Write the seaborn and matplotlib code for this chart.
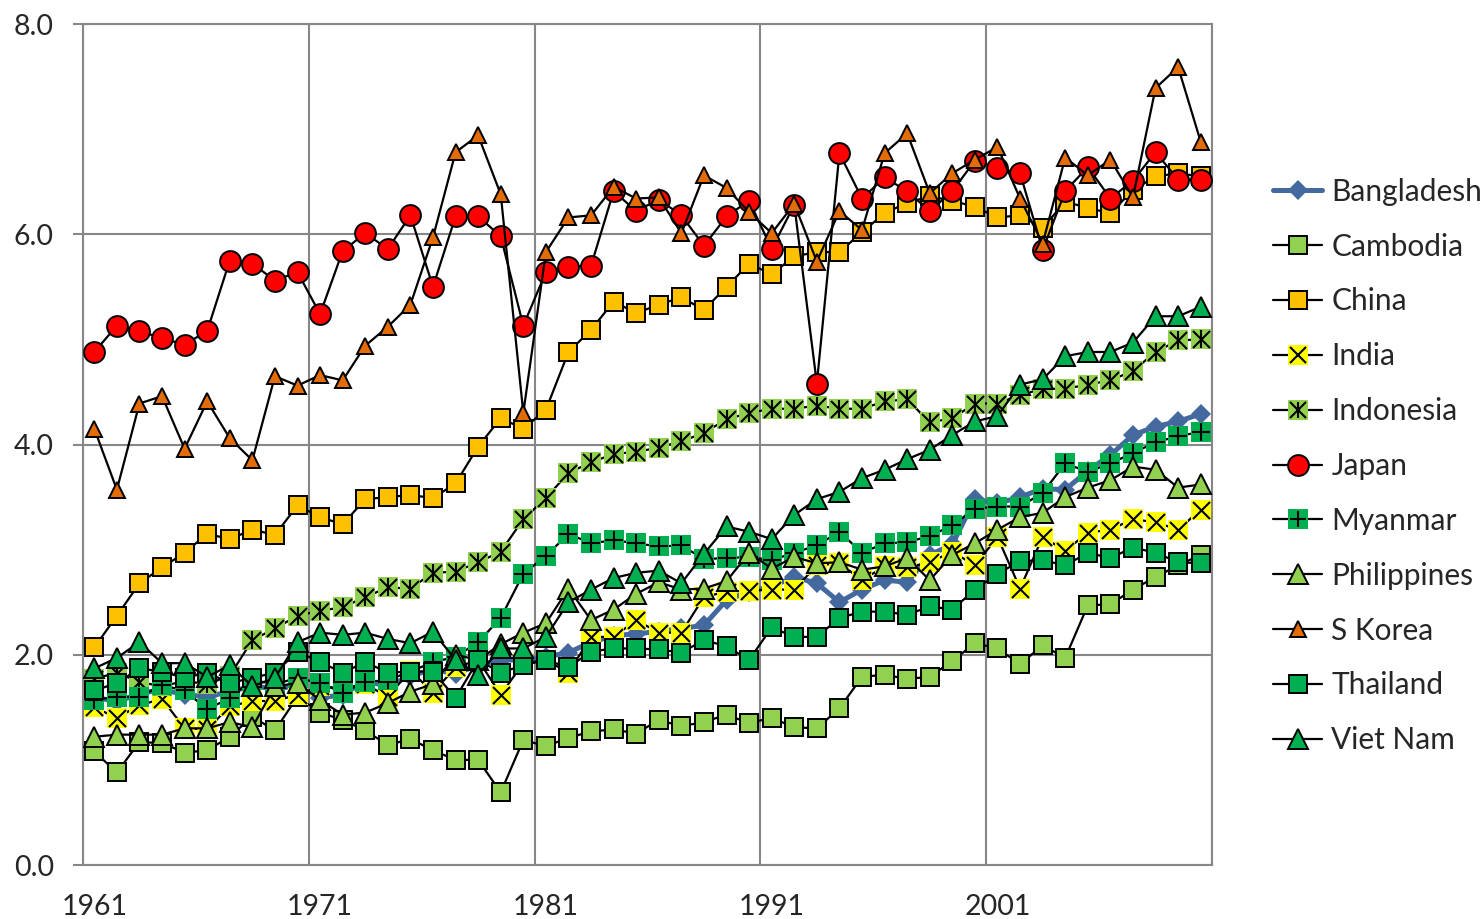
import seaborn as sns
import matplotlib.pyplot as plt
import numpy as np
from matplotlib.lines import Line2D
from matplotlib.ticker import FixedLocator, FormatStrFormatter

years = list(range(1961, 2011))

bangladesh = [1.60, 1.55, 1.63, 1.67, 1.62, 1.60, 1.65, 1.70, 1.68, 1.70,
              1.59, 1.62, 1.75, 1.70, 1.80, 1.86, 1.82, 1.90, 1.95, 1.95,
              1.98, 2.02, 2.12, 2.18, 2.20, 2.22, 2.25, 2.28, 2.52, 2.60,
              2.65, 2.74, 2.68, 2.50, 2.62, 2.71, 2.69, 2.95, 3.05, 3.48,
              3.44, 3.50, 3.58, 3.57, 3.75, 3.90, 4.09, 4.17, 4.22, 4.29]
cambodia = [1.08, 0.88, 1.17, 1.16, 1.07, 1.09, 1.22, 1.41, 1.28, 1.60,
            1.45, 1.38, 1.28, 1.14, 1.20, 1.09, 1.00, 1.00, 0.69, 1.19,
            1.13, 1.21, 1.27, 1.29, 1.25, 1.38, 1.32, 1.36, 1.43, 1.35,
            1.40, 1.31, 1.30, 1.49, 1.79, 1.81, 1.77, 1.79, 1.94, 2.11,
            2.06, 1.91, 2.09, 1.97, 2.47, 2.48, 2.62, 2.74, 2.85, 2.95]
china = [2.07, 2.37, 2.68, 2.83, 2.97, 3.15, 3.10, 3.19, 3.14, 3.42,
         3.31, 3.24, 3.48, 3.50, 3.52, 3.49, 3.63, 3.98, 4.25, 4.15,
         4.33, 4.88, 5.09, 5.36, 5.25, 5.33, 5.40, 5.28, 5.50, 5.72,
         5.62, 5.79, 5.83, 5.83, 6.02, 6.20, 6.30, 6.36, 6.32, 6.26,
         6.16, 6.18, 6.06, 6.31, 6.25, 6.20, 6.42, 6.55, 6.58, 6.55]
india = [1.50, 1.40, 1.52, 1.58, 1.30, 1.29, 1.51, 1.56, 1.56, 1.62,
         1.70, 1.68, 1.72, 1.60, 1.85, 1.64, 1.88, 1.95, 1.62, 1.92,
         1.95, 1.83, 2.17, 2.17, 2.33, 2.21, 2.21, 2.55, 2.60, 2.61,
         2.62, 2.62, 2.85, 2.87, 2.71, 2.84, 2.83, 2.88, 2.98, 2.85,
         3.12, 2.63, 3.12, 2.99, 3.16, 3.19, 3.29, 3.26, 3.19, 3.38]
indonesia = [1.77, 1.83, 1.74, 1.70, 1.75, 1.72, 1.80, 2.14, 2.25, 2.37,
             2.42, 2.45, 2.55, 2.64, 2.63, 2.78, 2.79, 2.88, 2.98, 3.29,
             3.49, 3.73, 3.83, 3.91, 3.93, 3.97, 4.03, 4.11, 4.24, 4.30,
             4.34, 4.34, 4.37, 4.34, 4.34, 4.41, 4.43, 4.21, 4.25, 4.39,
             4.39, 4.47, 4.53, 4.53, 4.57, 4.61, 4.70, 4.88, 4.99, 5.00]
japan = [4.88, 5.13, 5.08, 5.01, 4.95, 5.08, 5.75, 5.72, 5.56, 5.64,
         5.24, 5.84, 6.01, 5.86, 6.18, 5.50, 6.17, 6.17, 5.98, 5.13,
         5.64, 5.69, 5.70, 6.41, 6.22, 6.33, 6.18, 5.89, 6.17, 6.32,
         5.86, 6.28, 4.58, 6.77, 6.34, 6.54, 6.41, 6.22, 6.41, 6.70,
         6.63, 6.58, 5.85, 6.41, 6.64, 6.34, 6.51, 6.78, 6.52, 6.52]
myanmar = [1.57, 1.60, 1.60, 1.71, 1.66, 1.48, 1.59, 1.76, 1.72, 1.78,
           1.73, 1.64, 1.74, 1.76, 1.84, 1.93, 1.98, 2.12, 2.35, 2.77,
           2.94, 3.15, 3.06, 3.09, 3.06, 3.03, 3.04, 2.91, 2.92, 2.93,
           2.90, 2.97, 3.04, 3.17, 2.97, 3.06, 3.07, 3.13, 3.23, 3.39,
           3.41, 3.41, 3.54, 3.82, 3.74, 3.82, 3.92, 4.02, 4.08, 4.12]
philippines = [1.22, 1.24, 1.24, 1.24, 1.30, 1.30, 1.36, 1.31, 1.70, 1.73,
               1.57, 1.43, 1.45, 1.54, 1.65, 1.72, 2.00, 1.95, 2.10, 2.21,
               2.30, 2.63, 2.33, 2.43, 2.58, 2.69, 2.62, 2.63, 2.70, 2.97,
               2.82, 2.93, 2.87, 2.88, 2.81, 2.84, 2.92, 2.71, 2.95, 3.06,
               3.19, 3.31, 3.35, 3.50, 3.59, 3.66, 3.79, 3.76, 3.59, 3.62]
s_korea = [4.15, 3.57, 4.39, 4.46, 3.96, 4.41, 4.06, 3.85, 4.65, 4.56,
           4.66, 4.61, 4.94, 5.12, 5.33, 5.97, 6.78, 6.94, 6.38, 4.30,
           5.83, 6.16, 6.18, 6.45, 6.34, 6.35, 6.01, 6.56, 6.44, 6.21,
           6.01, 6.29, 5.74, 6.22, 6.04, 6.77, 6.96, 6.39, 6.58, 6.71,
           6.83, 6.34, 5.91, 6.73, 6.56, 6.71, 6.35, 7.39, 7.59, 6.88]
thailand = [1.66, 1.73, 1.87, 1.84, 1.78, 1.83, 1.73, 1.78, 1.83, 2.03,
            1.93, 1.83, 1.93, 1.83, 1.84, 1.84, 1.59, 1.95, 1.83, 1.90,
            1.95, 1.88, 2.03, 2.06, 2.06, 2.05, 2.02, 2.14, 2.08, 1.95,
            2.26, 2.17, 2.17, 2.35, 2.41, 2.41, 2.38, 2.46, 2.43, 2.62,
            2.77, 2.89, 2.90, 2.85, 2.97, 2.92, 3.02, 2.97, 2.88, 2.87]
viet_nam = [1.87, 1.97, 2.12, 1.92, 1.92, 1.79, 1.90, 1.70, 1.78, 2.12,
            2.21, 2.19, 2.21, 2.15, 2.11, 2.22, 1.95, 1.81, 2.06, 2.06,
            2.17, 2.50, 2.62, 2.73, 2.78, 2.80, 2.68, 2.96, 3.22, 3.17,
            3.10, 3.33, 3.48, 3.55, 3.68, 3.76, 3.86, 3.95, 4.09, 4.22,
            4.27, 4.57, 4.62, 4.84, 4.88, 4.88, 4.97, 5.22, 5.22, 5.31]

BLUE = "#43699e"
LGREEN = "#92d050"
DGREEN = "#00b050"

# name, values, marker, size, face, edge, inner symbols
series = [
    ("Bangladesh", bangladesh, "D", 10.5, BLUE, BLUE, []),
    ("Cambodia", cambodia, "s", 13.5, LGREEN, "black", []),
    ("China", china, "s", 13.5, "#ffc000", "black", []),
    ("India", india, "s", 14, "#ffff00", "#ffff00", ["x"]),
    ("Indonesia", indonesia, "s", 14, LGREEN, LGREEN, ["x", "|"]),
    ("Japan", japan, "o", 15, "#ff0000", "black", []),
    ("Myanmar", myanmar, "s", 14, DGREEN, DGREEN, ["+"]),
    ("Philippines", philippines, "^", 15, LGREEN, "black", []),
    ("S Korea", s_korea, "^", 11, "#e36c09", "black", []),
    ("Thailand", thailand, "s", 13.5, DGREEN, "black", []),
    ("Viet Nam", viet_nam, "^", 15, DGREEN, "black", []),
]

sns.set_style("white")
plt.rcParams["font.family"] = ["Lato", "DejaVu Sans"]

fig = plt.figure(figsize=(14.84, 9.19), dpi=100)
ax = fig.add_axes([83 / 1484, 1 - 865 / 919, (1212 - 83) / 1484, (865 - 24) / 919])

x = np.arange(len(years))
handles = []
for i, (name, vals, mk, ms, face, edge, inner) in enumerate(series):
    z = 3 + i * 2
    if name == "Bangladesh":
        sns.lineplot(x=x, y=vals, ax=ax, color=BLUE, lw=3.6, marker=mk,
                     markersize=ms, markerfacecolor=face, markeredgecolor=edge,
                     markeredgewidth=0, zorder=z)
        h = Line2D([], [], color=BLUE, lw=3.6, marker=mk, markersize=ms,
                   markerfacecolor=face, markeredgewidth=0)
    else:
        mew = 1.4 if edge == "black" else 0
        sns.lineplot(x=x, y=vals, ax=ax, color="black", lw=1.6, marker=mk,
                     markersize=ms, markerfacecolor=face, markeredgecolor=edge,
                     markeredgewidth=mew, zorder=z)
        h = Line2D([], [], color="black", lw=1.6, marker=mk, markersize=ms,
                   markerfacecolor=face, markeredgecolor=edge, markeredgewidth=mew)
    parts = [h]
    for sym in inner:
        sns.scatterplot(x=x, y=vals, ax=ax, marker=sym, color="black",
                        s=150, linewidth=1.5, zorder=z + 1, legend=False)
        parts.append(Line2D([], [], ls="", marker=sym, color="black",
                            markersize=12, markeredgewidth=1.5))
    handles.append(tuple(parts) if len(parts) > 1 else h)

ax.set_xlim(-0.5, len(years) - 0.5)
ax.set_ylim(0, 8)

grid_col = "#878787"
ax.xaxis.set_major_locator(FixedLocator([0, 10, 20, 30, 40]))
ax.set_xticklabels([str(years[k]) for k in [0, 10, 20, 30, 40]])
ax.xaxis.set_minor_locator(FixedLocator([-0.5, 9.5, 19.5, 29.5, 39.5, 49.5]))
ax.set_yticks([0, 2, 4, 6, 8])
ax.yaxis.set_major_formatter(FormatStrFormatter("%.1f"))

ax.tick_params(axis="x", which="major", length=0, pad=21, labelsize=20.5)
ax.tick_params(axis="x", which="minor", length=7, width=1.5, color=grid_col)
ax.tick_params(axis="y", which="major", length=7, width=1.5, color=grid_col,
               pad=14, labelsize=20.5, left=True)
ax.grid(False)
ax.grid(True, which="minor", axis="x", color=grid_col, lw=1.5, zorder=0)
ax.grid(True, which="major", axis="y", color=grid_col, lw=1.5, zorder=0)
for sp in ax.spines.values():
    sp.set_color(grid_col)
    sp.set_linewidth(1.5)
    sp.set_visible(True)
ax.set_axisbelow(True)
ax.set_xlabel("")
ax.set_ylabel("")

fig.legend(handles, [s[0] for s in series], loc="center left",
           bbox_to_anchor=(1273 / 1484, 1 - 466 / 919), frameon=False,
           fontsize=21.5, handlelength=1.65, handletextpad=0.3,
           labelspacing=0.9, borderpad=0, borderaxespad=0, numpoints=1)

fig.savefig("out.png", dpi=100)
